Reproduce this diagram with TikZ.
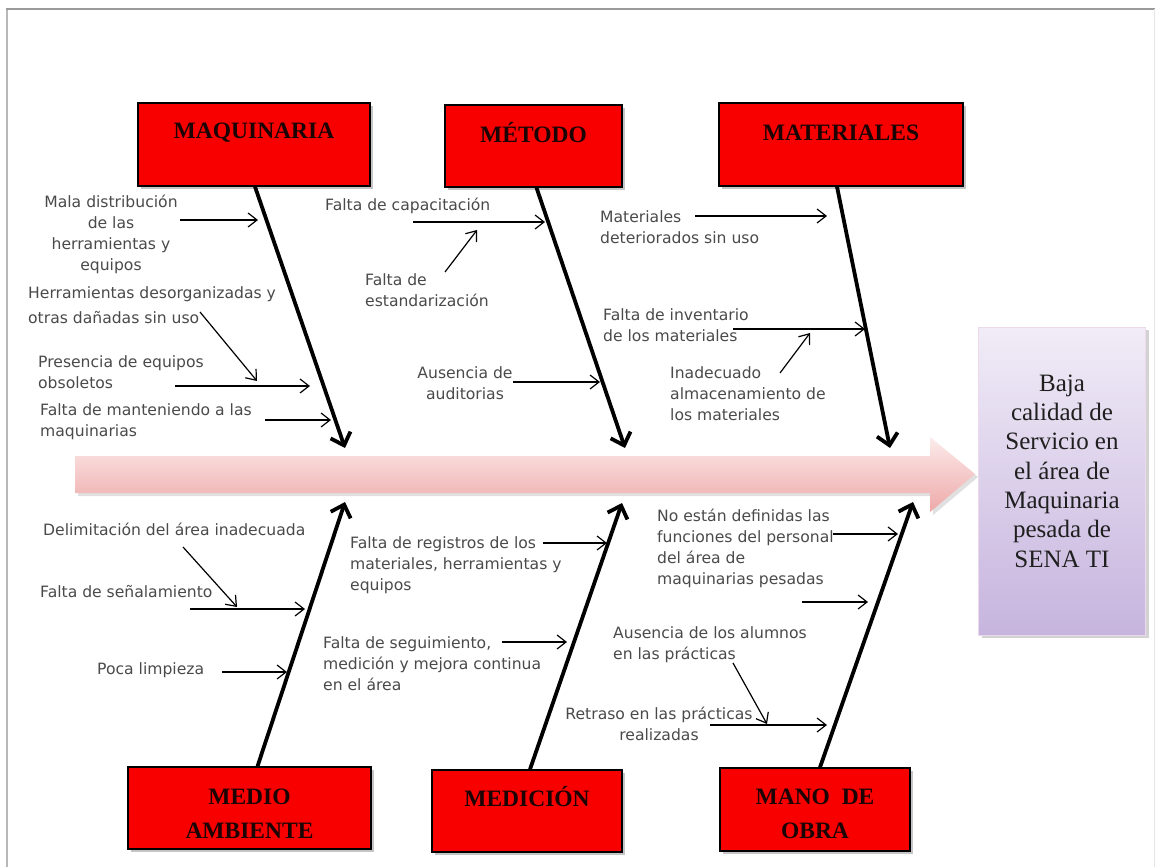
\documentclass[tikz,border=0pt]{standalone}
\usepackage{fontspec}
\setmainfont{Liberation Serif}
\newfontfamily\lblfont{DejaVu Sans}
\usetikzlibrary{arrows.meta,shadows}
\definecolor{lbltext}{HTML}{4A4A4A}
\definecolor{catred}{HTML}{F80000}
\definecolor{cattext}{HTML}{1C0404}
\definecolor{framegray}{HTML}{9A9A9A}
\definecolor{spinetop}{HTML}{FCEBEB}
\definecolor{spinemid}{HTML}{F6C2C2}
\definecolor{spinebot}{HTML}{EEA8A8}
\definecolor{efftop}{HTML}{F1ECF7}
\definecolor{effbot}{HTML}{C6B4DE}
\begin{document}
\begin{tikzpicture}[x=1pt,y=-1pt,
  catbox/.style={draw=black, line width=1.4pt, fill=catred,
    drop shadow={shadow xshift=2.5pt, shadow yshift=-2.5pt, opacity=0.45}},
  cattitle/.style={font=\bfseries\fontsize{23.5}{34}\selectfont, text=cattext,
    align=center, inner sep=0pt},
  bone/.style={line width=3.8pt, -{Straight Barb[length=11pt,width=21pt]}},
  twig/.style={line width=1.2pt, -{Straight Barb[length=9pt,width=14pt]}},
  cause/.style={font=\lblfont\fontsize{15.6}{21}\selectfont, text=lbltext,
    inner sep=0pt, align=left, anchor=north west},
  causec/.style={cause, align=center, anchor=north},
]
\useasboundingbox (0,0) rectangle (1155,867);
\fill[white] (0,0) rectangle (1155,867);

% outer frame
\draw[framegray!70, line width=2pt] (7,867) -- (7,9.5);
\draw[framegray, line width=2pt] (6,9.5) -- (1155,9.5);
\draw[framegray!25, line width=1pt] (1154,9.5) -- (1154,867);

% main spine arrow
\fill[black!12] (78,459) -- (933,459) -- (933,440) -- (978,477) -- (933,515) -- (933,496) -- (78,496) -- cycle;
\shade[top color=spinetop, middle color=spinemid, bottom color=spinebot]
  (75,456) -- (930,456) -- (930,437) -- (975,474) -- (930,512) -- (930,493) -- (75,493) -- cycle;

% effect box
\node[minimum width=167pt, minimum height=308pt, inner sep=0pt,
  top color=efftop, bottom color=effbot, draw=white!85!violet, line width=0.6pt,
  drop shadow={shadow xshift=3pt, shadow yshift=-3pt, opacity=0.35}]
  (effect) at (1062,481) {};
\node[font=\fontsize{25}{29.3}\selectfont, text=black!88, align=center, inner sep=0pt]
  (effecttext) at (1062,471) {Baja\\calidad de\\Servicio en\\el área de\\Maquinaria\\pesada de\\SENA TI};

% category boxes
\node[catbox, minimum width=232pt, minimum height=83pt] (maq) at (254,144.5) {};
\node[catbox, minimum width=177pt, minimum height=82pt] (met) at (533.5,146) {};
\node[catbox, minimum width=244pt, minimum height=83pt] (mat) at (841,144.5) {};
\node[catbox, minimum width=243pt, minimum height=82pt] (amb) at (249.5,808) {};
\node[catbox, minimum width=190pt, minimum height=82pt] (med) at (527,811) {};
\node[catbox, minimum width=190pt, minimum height=83pt] (mano) at (815,809.5) {};

\node[cattitle] (maqt) at (254,133) {MAQUINARIA};
\node[cattitle] (mett) at (533.5,133) {MÉTODO};
\node[cattitle] (matt) at (841,133) {MATERIALES};
\node[cattitle] (ambt) at (249.5,814) {MEDIO\\AMBIENTE};
\node[cattitle] (medt) at (527,797) {MEDICIÓN};
\node[cattitle] (manot) at (815,814) {MANO\ \ DE\\OBRA};

% bone tips on the spine
\coordinate (tmaq) at (345,448);
\coordinate (tmet) at (625,448);
\coordinate (tmat) at (890,448);
\coordinate (tamb) at (345,502);
\coordinate (tmed) at (622,503);
\coordinate (tmano) at (913,502);

\draw[bone] ([xshift=1pt]maq.south) -- (tmaq);
\draw[bone] ([xshift=3pt]met.south) -- (tmet);
\draw[bone] ([xshift=-4pt]mat.south) -- (tmat);
\draw[bone] ([xshift=8pt]amb.north) -- (tamb);
\draw[bone] ([xshift=3pt]med.north) -- (tmed);
\draw[bone] ([xshift=5pt]mano.north) -- (tmano);

% causes: maquinaria
\node[causec] (c1) at (111,195) {Mala distribución\\de las\\herramientas y\\equipos};
\node[cause, font=\lblfont\fontsize{15.6}{25}\selectfont] (c2) at (28,286) {Herramientas desorganizadas y\\otras dañadas sin uso};
\node[cause] (c3) at (38,355) {Presencia de equipos\\obsoletos};
\node[cause] (c4) at (40,403) {Falta de manteniendo a las\\maquinarias};

% causes: metodo
\node[cause] (c5) at (325,198) {Falta de capacitación};
\node[cause] (c6) at (365,273) {Falta de\\estandarización};
\node[causec] (c7) at (465,366) {Ausencia de\\auditorias};

% causes: materiales
\node[cause] (c8) at (600,210) {Materiales\\deteriorados sin uso};
\node[cause] (c9) at (603,308) {Falta de inventario\\de los materiales};
\node[cause] (c10) at (670,366) {Inadecuado\\almacenamiento de\\los materiales};

% causes: medio ambiente
\node[cause] (c11) at (43,523) {Delimitación del área inadecuada};
\node[cause] (c12) at (40,585) {Falta de señalamiento};
\node[cause] (c13) at (97,662) {Poca limpieza};

% causes: medicion
\node[cause] (c14) at (350,536) {Falta de registros de los\\materiales, herramientas y\\equipos};
\node[cause] (c15) at (323,636) {Falta de seguimiento,\\medición y mejora continua\\en el área};

% causes: mano de obra
\node[cause] (c16) at (657,509) {No están definidas las\\funciones del personal\\del área de\\maquinarias pesadas};
\node[cause] (c18) at (613,626) {Ausencia de los alumnos\\en las prácticas};
\node[causec] (c19) at (659,707) {Retraso en las prácticas\\realizadas};

% arrow end points
\coordinate (s1) at (180,220);  \coordinate (e1) at (258,220);
\coordinate (s2) at (200,312);  \coordinate (e2) at (257,381);
\coordinate (s3) at (175,386);  \coordinate (e3) at (310,386);
\coordinate (s4) at (265,420);  \coordinate (e4) at (331,420);
\coordinate (s5) at (413,222);  \coordinate (e5) at (545,222);
\coordinate (s6) at (445,272);  \coordinate (e6) at (477,230);
\coordinate (s7) at (513,382);  \coordinate (e7) at (600,382);
\coordinate (s8) at (695,216);  \coordinate (e8) at (827,216);
\coordinate (s9) at (733,329);  \coordinate (e9) at (865,329);
\coordinate (s10) at (780,373); \coordinate (e10) at (810,333);
\coordinate (s11) at (183,547); \coordinate (e11) at (237,607);
\coordinate (s12) at (190,609); \coordinate (e12) at (305,609);
\coordinate (s13) at (222,672); \coordinate (e13) at (287,672);
\coordinate (s14) at (543,543); \coordinate (e14) at (607,543);
\coordinate (s15) at (502,642); \coordinate (e15) at (567,642);
\coordinate (s16) at (833,534); \coordinate (e16) at (898,534);
\coordinate (s17) at (802,602); \coordinate (e17) at (868,602);
\coordinate (s18) at (733,663); \coordinate (e18) at (767,724);
\coordinate (s19) at (710,725); \coordinate (e19) at (827,725);

\foreach \i in {1,...,19} { \draw[twig] (s\i) -- (e\i); }

\end{tikzpicture}
\end{document}
